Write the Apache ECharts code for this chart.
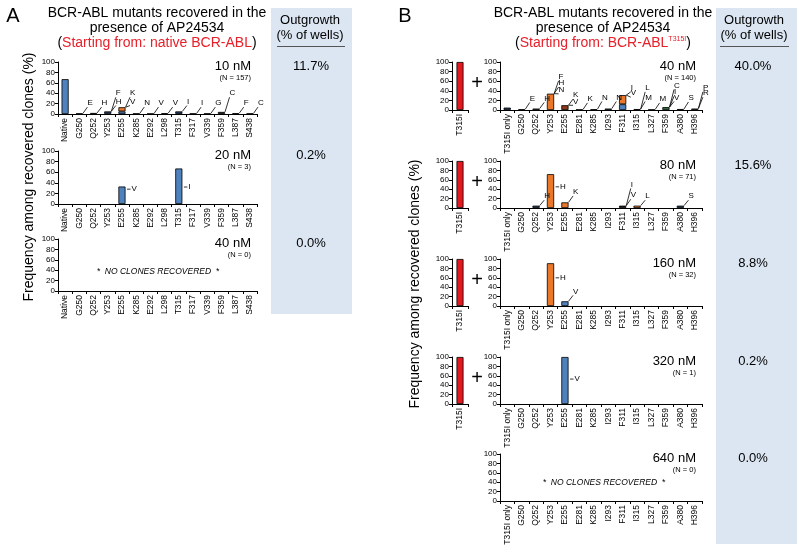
<!DOCTYPE html>
<html><head><meta charset="utf-8">
<script src="https://cdn.jsdelivr.net/npm/echarts@6/dist/echarts.min.js"></script>
<style>html,body{margin:0;padding:0;background:#fff}#c{width:800px;height:549px}</style>
</head><body><div id="c"></div><script>
const FONT = '"Liberation Sans", Arial, sans-serif';

// ---------- DATA ----------
const catsA = ['Native','G250','Q252','Y253','E255','K285','E292','L298','T315','F317','V339','F359','L387','S438'];
const catsB = ['T315I only','G250','Q252','Y253','E255','E281','K285','I293','F311','I315','L327','F359','A380','H396'];
const catT315I = ['T315I'];
const yTicks = [0, 20, 40, 60, 80, 100];

const dosesA = ['10 nM', '20 nM', '40 nM'];
const nA = ['(N = 157)', '(N = 3)', '(N = 0)'];
const outA = ['11.7%', '0.2%', '0.0%'];
const dosesB = ['40 nM', '80 nM', '160 nM', '320 nM', '640 nM'];
const nB = ['(N = 140)', '(N = 71)', '(N = 32)', '(N = 1)', '(N = 0)'];
const outB = ['40.0%', '15.6%', '8.8%', '0.2%', '0.0%'];

// A: 10 nM
const a10Low = [67, 1, 2, 5, 5, 1, 0.7, 1.5, 5, 1, 1, 4, 1.5, 1];
const a10Up  = [0, 0, 0, 0, 8, 0, 0, 0, 0, 0, 0, 0, 0, 0];
const a10Col = ['b','n','n','n','b','n','n','n','n','n','n','k','n','n'];
const a10Notes = [['G250','E',19],['Q252','H',19],['Y253','H',22],['Y253','F',38],['E255','V',22],['E255','K',38],
  ['K285','N',19],['E292','V',19],['L298','V',19],['T315','I',22],['F317','I',19],['V339','G',19],['F359','C',38],['L387','F',19],['S438','C',19]];
// A: 20 nM
const a20Low = [0, 0, 0, 0, 33, 0, 0, 0, 67, 0, 0, 0, 0, 0];
const a20Col = ['b','b','b','b','b','b','b','b','b','b','b','b','b','b'];
const a20Notes = [['E255','V',28],['T315','I',32]];

// B: 40 nM
const b40Low = [5, 1.5, 3, 34, 10, 1, 1.5, 3, 12, 2, 1, 6, 2, 3];
const b40Up  = [0, 0, 0, 0, 0, 0, 0, 0, 19, 0, 0, 0, 0, 0];
const b40Col = ['n','n','n','o','r','n','n','n','b','k','n','g','n','n'];
const b40Notes = [['G250','E',22],['Q252','H',22],['Y253','N',40],['Y253','H',54],['Y253','F',67],['E255','V',16],['E255','K',29],
  ['E281','K',21],['K285','N',24],['I293','N',24],['F311','V',33],['F311','I',44],['I315','M',24],['I315','L',44],['L327','M',21],
  ['F359','V',24],['F359','I',35],['F359','C',49],['A380','S',23],['H396','R',33],['H396','P',44]];
// B: 80 nM
const b80Low = [0, 0, 5, 72, 12, 0, 0, 0, 5, 5, 0, 0, 5, 0];
const b80Col = ['n','n','n','o','o','n','n','n','k','o','n','n','n','n'];
const b80Notes = [['Q252','H',23],['Y253','H',45],['E255','K',32],['F311','V',25],['F311','I',48],['I315','L',23],['A380','S',23]];
// B: 160 nM
const b160Low = [0, 0, 0, 91, 10, 0, 0, 0, 0, 0, 0, 0, 0, 0];
const b160Col = ['n','n','n','o','b','n','n','n','n','n','n','n','n','n'];
const b160Notes = [['Y253','H',60],['E255','V',29]];
// B: 320 nM
const b320Low = [0, 0, 0, 0, 100, 0, 0, 0, 0, 0, 0, 0, 0, 0];
const b320Col = ['n','n','n','n','b','n','n','n','n','n','n','n','n','n'];
const b320Notes = [['E255','V',53]];
// B: T315I reference bars
const t315iVal = [100];
const t315iCol = ['red'];

// ---------- STYLE / LAYOUT ----------
const COLORS = {b:'#4f81bd', n:'#1f3b63', k:'#141414', o:'#e9782b', r:'#8a3a17', g:'#2e6e3c', red:'#e3191f'};

const panels = [
  {cats:catsA, low:a10Low, up:a10Up, col:a10Col, notes:a10Notes, g:{left:58, top:62, width:199, height:52}},
  {cats:catsA, low:a20Low, col:a20Col, notes:a20Notes, g:{left:58, top:151, width:199, height:53}},
  {cats:catsA, g:{left:58, top:239, width:199, height:52}},
  {cats:catsB, low:b40Low, up:b40Up, col:b40Col, notes:b40Notes, g:{left:500, top:62, width:202, height:48}},
  {cats:catsB, low:b80Low, col:b80Col, notes:b80Notes, g:{left:500, top:161, width:202, height:47}},
  {cats:catsB, low:b160Low, col:b160Col, notes:b160Notes, g:{left:500, top:259, width:202, height:47}},
  {cats:catsB, low:b320Low, col:b320Col, notes:b320Notes, g:{left:500, top:357, width:202, height:47}},
  {cats:catsB, g:{left:500, top:454, width:202, height:47}},
  {cats:catT315I, low:t315iVal, col:t315iCol, g:{left:452, top:62, width:16, height:48}, bw:7},
  {cats:catT315I, low:t315iVal, col:t315iCol, g:{left:452, top:161, width:16, height:47}, bw:7},
  {cats:catT315I, low:t315iVal, col:t315iCol, g:{left:452, top:259, width:16, height:47}, bw:7},
  {cats:catT315I, low:t315iVal, col:t315iCol, g:{left:452, top:357, width:16, height:47}, bw:7}
];

const grid = [], xAxis = [], yAxis = [], series = [], graphic = [];

function addPanel(p) {
  const i = grid.length;
  grid.push(Object.assign({containLabel:false}, p.g));
  xAxis.push({type:'category', gridIndex:i, data:p.cats,
    axisLine:{lineStyle:{color:'#000', width:1}},
    axisTick:{show:true, length:3, interval:0, lineStyle:{color:'#000'}},
    axisLabel:{interval:0, rotate:90, fontSize:8.5, color:'#000', margin:4, fontFamily:FONT},
    splitLine:{show:false}});
  yAxis.push({type:'value', gridIndex:i, min:yTicks[0], max:yTicks[yTicks.length-1], interval:yTicks[1]-yTicks[0],
    axisLine:{show:true, lineStyle:{color:'#000', width:1}},
    axisTick:{show:true, length:3, lineStyle:{color:'#000'}},
    axisLabel:{fontSize:8, color:'#000', margin:3, fontFamily:FONT},
    splitLine:{show:false}});
  if (p.low) {
    series.push({type:'bar', xAxisIndex:i, yAxisIndex:i, stack:'s'+i, barWidth:p.bw || '50%', silent:true,
      itemStyle:{borderColor:'#000', borderWidth:0.8},
      data:p.low.map((v,j) => v > 0 ? {value:v, itemStyle:{color:COLORS[p.col[j]]}} : '-')});
  }
  if (p.up) {
    series.push({type:'bar', xAxisIndex:i, yAxisIndex:i, stack:'s'+i, barWidth:'50%', silent:true,
      itemStyle:{color:COLORS.o, borderColor:'#000', borderWidth:0.8},
      data:p.up.map(v => v > 0 ? v : '-')});
  }
  if (p.notes) {
    const tops = p.cats.map((c,j) => (p.low ? (p.low[j]||0) : 0) + (p.up ? (p.up[j]||0) : 0));
    const notes = p.notes;
    series.push({type:'custom', xAxisIndex:i, yAxisIndex:i, silent:true, z:5,
      data:notes.map(n => { const ci = p.cats.indexOf(n[0]); return [ci, n[2], tops[ci]]; }),
      renderItem:(params, api) => {
        const note = notes[params.dataIndex];
        const ci = api.value(0), lv = api.value(1), top = api.value(2);
        const b = api.coord([ci, top]), l = api.coord([ci, lv]);
        const hw = api.size([1, 0])[0] * 0.25;
        const x0 = b[0] + hw;
        const st = {stroke:'#000', lineWidth:0.8};
        const ts = {text:note[1], fontSize:8, fontFamily:FONT, fill:'#000', verticalAlign:'middle', align:'left'};
        if (lv < top) {
          return {type:'group', children:[
            {type:'line', shape:{x1:x0+1.5, y1:l[1], x2:x0+5, y2:l[1]}, style:st},
            {type:'text', style:Object.assign({x:x0+6, y:l[1]}, ts)}]};
        }
        return {type:'group', children:[
          {type:'line', shape:{x1:x0, y1:b[1], x2:x0+4.5, y2:l[1]+3}, style:st},
          {type:'text', style:Object.assign({x:x0+4.5, y:l[1]-1}, ts)}]};
      }});
  }
}
panels.forEach(addPanel);

function T(x, y, text, o) {
  graphic.push({type:'text', x:x, y:y, rotation:(o && o.rot) || 0, z:10, silent:true,
    style:Object.assign({text:text, fontFamily:FONT, fontSize:13, fill:'#000', align:'center', verticalAlign:'middle'}, (o && o.s) || {})});
}

// background boxes
graphic.push({type:'rect', shape:{x:271, y:8, width:81, height:306}, style:{fill:'#dce6f2'}, z:0, silent:true});
graphic.push({type:'rect', shape:{x:716, y:8, width:81, height:536}, style:{fill:'#dce6f2'}, z:0, silent:true});
graphic.push({type:'line', shape:{x1:277, y1:46.5, x2:345, y2:46.5}, style:{stroke:'#555', lineWidth:1.2}, z:10, silent:true});
graphic.push({type:'line', shape:{x1:720, y1:46.5, x2:789, y2:46.5}, style:{stroke:'#555', lineWidth:1.2}, z:10, silent:true});

// panel letters
T(13, 16, 'A', {s:{fontSize:20}});
T(405, 16, 'B', {s:{fontSize:20}});

// titles
const RICH = {k:{fontSize:14, fontFamily:FONT, fill:'#000'}, r:{fontSize:14, fontFamily:FONT, fill:'#e8202a'},
  s:{fontSize:7, fontFamily:FONT, fill:'#e8202a', verticalAlign:'top', padding:[0,0,6,0]}};
T(157, 13, 'BCR-ABL mutants recovered in the', {s:{fontSize:14}});
T(157, 28, 'presence of AP24534', {s:{fontSize:14}});
T(157, 43, '{k|(}{r|Starting from: native BCR-ABL}{k|)}', {s:{rich:RICH}});
T(603, 13, 'BCR-ABL mutants recovered in the', {s:{fontSize:14}});
T(603, 28, 'presence of AP24534', {s:{fontSize:14}});
T(603, 43, '{k|(}{r|Starting from: BCR-ABL}{s|T315I}{k|)}', {s:{rich:RICH}});

// outgrowth headers
T(310, 20, 'Outgrowth');
T(310, 35, '(% of wells)');
T(754, 20, 'Outgrowth');
T(754, 35, '(% of wells)');

// y-axis names
T(29, 177, 'Frequency among recovered clones (%)', {rot:Math.PI/2, s:{fontSize:14}});
T(415, 284, 'Frequency among recovered clones (%)', {rot:Math.PI/2, s:{fontSize:14}});

// dose / N / outgrowth values
[0,1,2].forEach(k => {
  const g = panels[k].g;
  T(g.left + g.width - 6, g.top + 4.5, dosesA[k], {s:{align:'right'}});
  T(g.left + g.width - 6, g.top + 16, nA[k], {s:{align:'right', fontSize:7.5}});
  T(311, g.top + 4.5, outA[k]);
});
[3,4,5,6,7].forEach((k, m) => {
  const g = panels[k].g;
  T(g.left + g.width - 6, g.top + 4.5, dosesB[m], {s:{align:'right'}});
  T(g.left + g.width - 6, g.top + 16, nB[m], {s:{align:'right', fontSize:7.5}});
  T(753, g.top + 4.5, outB[m]);
});
// plus signs
[8,9,10,11].forEach(k => { const g = panels[k].g; T(477, g.top + 21, '+', {s:{fontSize:20}}); });

// no clones
T(158, 272, '*  NO CLONES RECOVERED  *', {s:{fontSize:8.5, fontStyle:'italic'}});
T(604, 483, '*  NO CLONES RECOVERED  *', {s:{fontSize:8.5, fontStyle:'italic'}});

const chart = echarts.init(document.getElementById('c'));
chart.setOption({animation:false, backgroundColor:'#fff', grid, xAxis, yAxis, series, graphic});
</script></body></html>
